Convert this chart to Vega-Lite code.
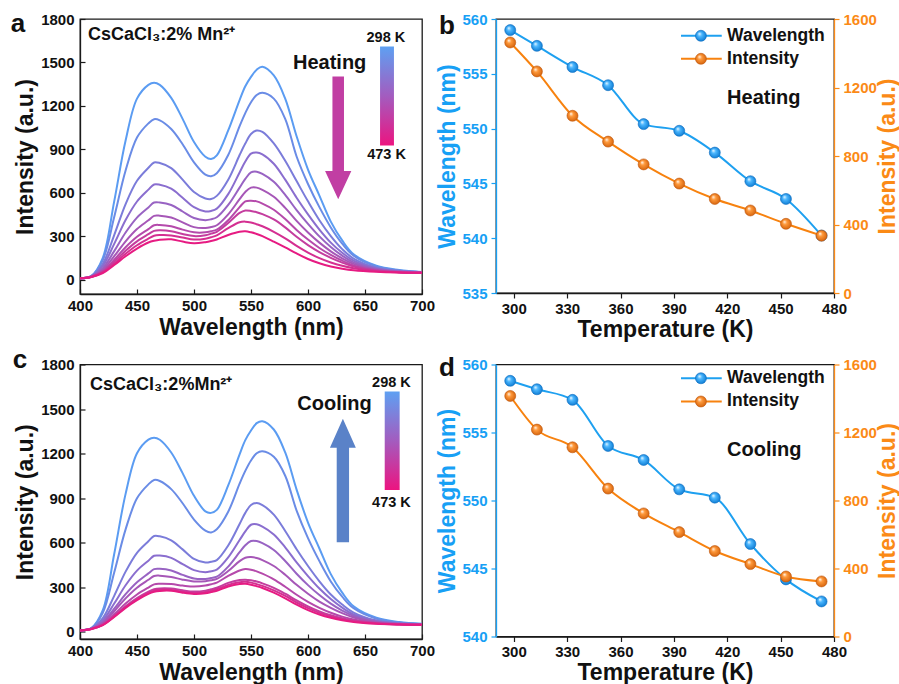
{
 "$schema": "https://vega.github.io/schema/vega-lite/v6.json",
 "padding": {"left": 10, "top": 10, "right": 0, "bottom": 0},
 "bounds": "flush",
 "columns": 2,
 "align": "each",
 "spacing": {"row": 70.5, "column": 74},
 "config": {
  "font": "Liberation Sans",
  "view": {"stroke": "#1a1a1a", "strokeWidth": 1.3},
  "axis": {"labelFont": "Liberation Sans", "titleFont": "Liberation Sans", "labelFontWeight": "bold", "labelFontSize": 15, "titleFontWeight": "bold", "titleFontSize": 23, "labelColor": "#111", "titleColor": "#111", "domainColor": "#1a1a1a", "domainWidth": 1.3, "tickColor": "#1a1a1a", "tickWidth": 1.2, "grid": false, "labelOverlap": false, "labelFlush": false},
  "text": {"font": "Liberation Sans", "fontWeight": "bold", "color": "#111"}
 },
 "datasets": {
  "heat": [
   {"w":400,"t298":8,"t313":8,"t333":8,"t353":8,"t373":8,"t393":8,"t413":8,"t433":8,"t453":8,"t473":8},
   {"w":410,"t298":25,"t313":24,"t333":23,"t353":22,"t373":21,"t393":20,"t413":19,"t433":19,"t453":18,"t473":18},
   {"w":420,"t298":150,"t313":135,"t333":109,"t353":94,"t373":79,"t393":67,"t413":58,"t433":53,"t453":49,"t473":45},
   {"w":430,"t298":540,"t313":432,"t333":307,"t353":246,"t373":196,"t393":161,"t413":137,"t433":123,"t453":110,"t473":100},
   {"w":440,"t298":960,"t313":753,"t333":521,"t353":411,"t373":325,"t393":264,"t413":223,"t433":199,"t453":178,"t473":161},
   {"w":450,"t298":1250,"t313":981,"t333":682,"t353":539,"t373":428,"t393":349,"t413":295,"t433":264,"t453":237,"t473":214},
   {"w":460,"t298":1345,"t313":1079,"t333":772,"t353":621,"t373":498,"t393":409,"t413":348,"t433":313,"t453":282,"t473":256},
   {"w":465,"t298":1360,"t313":1108,"t333":809,"t353":657,"t373":532,"t393":440,"t413":375,"t433":336,"t453":302,"t473":268},
   {"w":470,"t298":1345,"t313":1100,"t333":805,"t353":655,"t373":532,"t393":441,"t413":377,"t433":340,"t453":307,"t473":275},
   {"w":480,"t298":1255,"t313":1040,"t333":770,"t353":628,"t373":515,"t393":428,"t413":368,"t433":334,"t453":305,"t473":278},
   {"w":490,"t298":1110,"t313":935,"t333":690,"t353":565,"t373":470,"t393":395,"t413":345,"t433":314,"t453":290,"t473":262},
   {"w":500,"t298":950,"t313":810,"t333":605,"t353":500,"t373":425,"t393":362,"t413":326,"t433":300,"t453":276,"t473":250},
   {"w":510,"t298":848,"t313":725,"t333":560,"t353":470,"t373":410,"t393":356,"t413":326,"t433":306,"t453":282,"t473":258},
   {"w":515,"t298":832,"t313":714,"t333":556,"t353":474,"t373":416,"t393":363,"t413":334,"t433":317,"t453":292,"t473":266},
   {"w":520,"t298":858,"t313":735,"t333":578,"t353":490,"t373":430,"t393":375,"t413":345,"t433":330,"t453":305,"t473":277},
   {"w":530,"t298":1030,"t313":860,"t333":690,"t353":590,"t373":515,"t393":450,"t413":410,"t433":390,"t453":355,"t473":308},
   {"w":540,"t298":1240,"t313":1060,"t333":860,"t353":740,"t373":635,"t393":555,"t413":500,"t433":460,"t453":396,"t473":330},
   {"w":545,"t298":1335,"t313":1150,"t333":940,"t353":815,"t373":695,"t393":605,"t413":540,"t433":477,"t453":400,"t473":333},
   {"w":550,"t298":1400,"t313":1225,"t333":1005,"t353":870,"t373":740,"t393":635,"t413":545,"t433":474,"t453":394,"t473":326},
   {"w":555,"t298":1450,"t313":1275,"t333":1030,"t353":878,"t373":745,"t393":635,"t413":540,"t433":465,"t453":382,"t473":315},
   {"w":560,"t298":1470,"t313":1290,"t333":1020,"t353":865,"t373":730,"t393":620,"t413":525,"t433":452,"t453":368,"t473":300},
   {"w":570,"t298":1410,"t313":1250,"t333":940,"t353":800,"t373":675,"t393":572,"t413":482,"t433":415,"t453":330,"t473":262},
   {"w":580,"t298":1250,"t313":1110,"t333":820,"t353":690,"t373":585,"t393":495,"t413":418,"t433":360,"t453":285,"t473":222},
   {"w":590,"t298":990,"t313":850,"t333":680,"t353":565,"t373":480,"t393":405,"t413":343,"t433":295,"t453":232,"t473":180},
   {"w":600,"t298":760,"t313":660,"t333":540,"t353":450,"t373":385,"t393":325,"t413":276,"t433":238,"t453":186,"t473":142},
   {"w":610,"t298":580,"t313":500,"t333":410,"t353":345,"t373":298,"t393":255,"t413":218,"t433":190,"t453":148,"t473":112},
   {"w":620,"t298":400,"t313":360,"t333":300,"t353":255,"t373":225,"t393":195,"t413":170,"t433":150,"t453":118,"t473":90},
   {"w":630,"t298":270,"t313":248,"t333":210,"t353":185,"t373":165,"t393":146,"t413":130,"t433":117,"t453":95,"t473":75},
   {"w":640,"t298":175,"t313":165,"t333":145,"t353":130,"t373":118,"t393":108,"t413":98,"t433":90,"t453":78,"t473":64},
   {"w":660,"t298":95,"t313":90,"t333":82,"t353":76,"t373":72,"t393":68,"t413":64,"t433":60,"t453":57,"t473":53},
   {"w":680,"t298":66,"t313":63,"t333":60,"t353":57,"t373":55,"t393":53,"t413":51,"t433":50,"t453":49,"t473":48},
   {"w":700,"t298":52,"t313":51,"t333":50,"t353":49,"t373":48,"t393":47,"t413":47,"t433":46,"t453":46,"t473":46}
  ],
  "cool": [
   {"w":400,"t298":8,"t313":8,"t333":8,"t353":8,"t373":8,"t393":8,"t413":8,"t433":8,"t453":8,"t473":8},
   {"w":410,"t298":24,"t313":23,"t333":22,"t353":21,"t373":20,"t393":20,"t413":19,"t433":18,"t453":18,"t473":18},
   {"w":420,"t298":144,"t313":127,"t333":91,"t353":76,"t373":64,"t393":58,"t413":51,"t433":46,"t453":45,"t473":44},
   {"w":430,"t298":523,"t313":398,"t333":241,"t353":189,"t373":154,"t393":137,"t413":117,"t433":105,"t453":102,"t473":99},
   {"w":440,"t298":928,"t313":689,"t333":404,"t353":312,"t373":252,"t393":224,"t413":189,"t433":170,"t453":164,"t473":160},
   {"w":450,"t298":1202,"t313":898,"t333":531,"t353":411,"t373":333,"t393":296,"t413":250,"t433":225,"t453":218,"t473":212},
   {"w":460,"t298":1294,"t313":992,"t333":609,"t353":478,"t373":392,"t393":349,"t413":297,"t433":269,"t453":260,"t473":254},
   {"w":465,"t298":1307,"t313":1022,"t333":644,"t353":511,"t373":421,"t393":375,"t413":318,"t433":285,"t453":276,"t473":268},
   {"w":470,"t298":1293,"t313":1015,"t333":642,"t353":512,"t373":423,"t393":377,"t413":322,"t433":291,"t453":282,"t473":274},
   {"w":480,"t298":1207,"t313":960,"t333":615,"t353":497,"t373":412,"t393":368,"t413":320,"t433":290,"t453":281,"t473":275},
   {"w":490,"t298":1068,"t313":865,"t333":554,"t353":455,"t373":382,"t393":350,"t413":310,"t433":278,"t453":268,"t473":262},
   {"w":500,"t298":915,"t313":755,"t333":490,"t353":414,"t373":358,"t393":338,"t413":303,"t433":270,"t453":260,"t473":254},
   {"w":510,"t298":810,"t313":680,"t333":465,"t353":400,"t373":355,"t393":340,"t413":310,"t433":276,"t453":266,"t473":258},
   {"w":515,"t298":800,"t313":668,"t333":470,"t353":407,"t373":361,"t393":346,"t413":319,"t433":285,"t453":275,"t473":266},
   {"w":520,"t298":820,"t313":690,"t333":482,"t353":418,"t373":370,"t393":355,"t413":330,"t433":295,"t453":285,"t473":275},
   {"w":530,"t298":985,"t313":808,"t333":580,"t353":500,"t373":438,"t393":408,"t413":375,"t433":328,"t453":315,"t473":304},
   {"w":540,"t298":1195,"t313":997,"t333":725,"t353":617,"t373":535,"t393":475,"t413":412,"t433":347,"t453":333,"t473":320},
   {"w":545,"t298":1290,"t313":1083,"t333":800,"t353":675,"t373":582,"t393":498,"t413":421,"t433":350,"t453":335,"t473":322},
   {"w":550,"t298":1355,"t313":1153,"t333":853,"t353":720,"t373":610,"t393":502,"t413":417,"t433":346,"t453":330,"t473":316},
   {"w":555,"t298":1405,"t313":1202,"t333":866,"t353":723,"t373":610,"t393":496,"t413":406,"t433":337,"t453":320,"t473":306},
   {"w":560,"t298":1418,"t313":1215,"t333":852,"t353":708,"t373":596,"t393":482,"t413":390,"t433":325,"t453":308,"t473":294},
   {"w":570,"t298":1362,"t313":1178,"t333":788,"t353":655,"t373":550,"t393":442,"t413":352,"t433":295,"t453":278,"t473":262},
   {"w":580,"t298":1207,"t313":1050,"t333":678,"t353":568,"t373":476,"t393":383,"t413":302,"t433":255,"t453":240,"t473":224},
   {"w":590,"t298":957,"t313":815,"t333":555,"t353":466,"t373":390,"t393":315,"t413":248,"t433":210,"t453":196,"t473":182},
   {"w":600,"t298":735,"t313":630,"t333":442,"t353":374,"t373":313,"t393":255,"t413":200,"t433":170,"t453":158,"t473":145},
   {"w":610,"t298":560,"t313":475,"t333":339,"t353":290,"t373":246,"t393":202,"t413":160,"t433":136,"t453":126,"t473":115},
   {"w":620,"t298":387,"t313":338,"t333":250,"t353":219,"t373":188,"t393":160,"t413":127,"t433":110,"t453":102,"t473":93},
   {"w":630,"t298":262,"t313":235,"t333":182,"t353":161,"t373":141,"t393":124,"t413":101,"t433":90,"t453":84,"t473":77},
   {"w":640,"t298":170,"t313":157,"t333":128,"t353":115,"t373":105,"t393":95,"t413":82,"t433":74,"t453":70,"t473":65},
   {"w":660,"t298":93,"t313":87,"t333":75,"t353":71,"t373":67,"t393":63,"t413":58,"t433":56,"t453":54,"t473":53},
   {"w":680,"t298":64,"t313":61,"t333":56,"t353":54,"t373":53,"t393":51,"t413":50,"t433":49,"t453":48,"t473":48},
   {"w":700,"t298":52,"t313":50,"t333":49,"t353":48,"t373":47,"t393":47,"t413":46,"t433":46,"t453":46,"t473":46}
  ],
  "heatT": [
   {"T":298,"wl":558.99,"I":1463},{"T":313,"wl":557.55,"I":1294},{"T":333,"wl":555.62,"I":1035},{"T":353,"wl":553.96,"I":884},{"T":373,"wl":550.41,"I":751},
   {"T":393,"wl":549.80,"I":639},{"T":413,"wl":547.81,"I":549},{"T":433,"wl":545.20,"I":482},{"T":453,"wl":543.58,"I":404},{"T":473,"wl":540.24,"I":335}
  ],
  "coolT": [
   {"T":298,"wl":558.80,"I":1415},{"T":313,"wl":558.18,"I":1217},{"T":333,"wl":557.40,"I":1113},{"T":353,"wl":554.01,"I":870},{"T":373,"wl":552.98,"I":724},
   {"T":393,"wl":550.82,"I":614},{"T":413,"wl":550.21,"I":503},{"T":433,"wl":546.80,"I":426},{"T":453,"wl":544.20,"I":353},{"T":473,"wl":542.58,"I":324}
  ]
 },
 "concat": [
  {
   "width": 342, "height": 275,
   "layer": [
    {"data": {"name": "heat"},
     "transform": [{"fold": ["t298","t313","t333","t353","t373","t393","t413","t433","t453","t473"], "as": ["temp","I"]}],
     "mark": {"type": "line", "interpolate": "catmull-rom", "strokeWidth": 2},
     "encoding": {
      "x": {"field": "w", "type": "quantitative", "scale": {"domain": [400,700], "nice": false},
            "axis": {"title": "Wavelength (nm)", "values": [400,425,450,475,500,525,550,575,600,625,650,675,700], "labelExpr": "datum.value % 50 === 0 ? datum.label : ''", "tickSize": -5, "labelPadding": 9, "titlePadding": 3}},
      "y": {"field": "I", "type": "quantitative", "scale": {"domain": [-100,1800], "nice": false, "zero": false},
            "axis": {"title": "Intensity (a.u.)", "format": "d", "values": [0,150,300,450,600,750,900,1050,1200,1350,1500,1650,1800], "labelExpr": "datum.value % 300 === 0 ? datum.label : ''", "tickSize": -5, "labelPadding": 11, "titlePadding": 3}},
      "color": {"field": "temp", "type": "nominal", "legend": null,
                "scale": {"domain": ["t298","t313","t333","t353","t373","t393","t413","t433","t453","t473"], "range": ["#5b9cf2","#6a8ce6","#7b7cda","#8a6ecf","#9863c3","#a657b7","#b54aab","#c43d9e","#d42f91","#e61b82"]}}
     }},
    {"data": {"values": [{}]},
     "mark": {"type": "point", "shape": "M-0.094,-1L0.094,-1L0.094,0.54L0.214,0.54L0,1L-0.214,0.54L-0.094,0.54Z", "size": 15055, "filled": true, "color": "#c13ea3", "opacity": 1, "strokeWidth": 0},
     "encoding": {"x": {"datum": 626.5}, "y": {"datum": 979}}},
    {"data": {"values": [{}]},
     "mark": {"type": "rect", "fill": {"gradient": "linear", "x1": 0, "y1": 0, "x2": 0, "y2": 1, "stops": [{"offset": 0, "color": "#5ea0f2"}, {"offset": 0.5, "color": "#a35cbf"}, {"offset": 1, "color": "#ec1480"}]}},
     "encoding": {"x": {"datum": 663.2}, "x2": {"datum": 675.4}, "y": {"datum": 1610}, "y2": {"datum": 926}}},
    {"data": {"values": [{}]}, "mark": {"type": "text", "text": "298 K", "fontSize": 14.5, "align": "center", "baseline": "middle"}, "encoding": {"x": {"datum": 668.3}, "y": {"datum": 1667}}},
    {"data": {"values": [{}]}, "mark": {"type": "text", "text": "473 K", "fontSize": 14.5, "align": "center", "baseline": "middle"}, "encoding": {"x": {"datum": 668.9}, "y": {"datum": 862}}},
    {"data": {"values": [{}]}, "mark": {"type": "text", "text": "Heating", "fontSize": 20, "align": "center", "baseline": "middle"}, "encoding": {"x": {"datum": 619}, "y": {"datum": 1494.6}}},
    {"data": {"values": [{}]}, "mark": {"type": "text", "text": "CsCaCl₃:2% Mn²⁺", "fontSize": 18, "align": "left", "baseline": "middle"}, "encoding": {"x": {"datum": 407}, "y": {"datum": 1691}}},
    {"data": {"values": [{}]}, "mark": {"type": "text", "text": "a", "fontSize": 26, "align": "left", "baseline": "top"}, "encoding": {"x": {"datum": 339.2}, "y": {"datum": 1852}}}
   ]
  },
  {
   "width": 338, "height": 274,
   "resolve": {"scale": {"y": "independent"}},
   "layer": [
    {"layer": [
      {"data": {"name": "heatT"},
       "mark": {"type": "line", "interpolate": "monotone", "color": "#1ea0f0", "strokeWidth": 2},
       "encoding": {
        "x": {"field": "T", "type": "quantitative", "scale": {"domain": [290,480], "nice": false, "zero": false},
              "axis": {"title": "Temperature (K)", "values": [300,315,330,345,360,375,390,405,420,435,450,465,480], "labelExpr": "datum.value % 30 === 0 ? datum.label : ''", "tickSize": {"condition": {"test": "datum.value % 30 !== 0", "value": 3}, "value": 5}, "labelPadding": 3, "titlePadding": 2}},
        "y": {"field": "wl", "type": "quantitative", "scale": {"domain": [535,560], "nice": false, "zero": false},
              "axis": {"title": "Wavelength (nm)", "values": [535,537.5,540,542.5,545,547.5,550,552.5,555,557.5,560], "labelExpr": "datum.value % 5 === 0 ? datum.label : ''", "tickSize": {"condition": {"test": "datum.value % 5 !== 0", "value": 3}, "value": 5}, "labelPadding": 4, "titlePadding": 2, "labelColor": "#17a0f5", "titleColor": "#17a0f5", "domainColor": "#17a0f5", "tickColor": "#17a0f5"}}
       }},
      {"data": {"name": "heatT"},
       "mark": {"type": "point", "filled": true, "size": 121, "opacity": 1, "fill": {"gradient": "radial", "x1": 0.35, "y1": 0.3, "r1": 0, "x2": 0.5, "y2": 0.5, "r2": 0.55, "stops": [{"offset": 0, "color": "#ffffff"}, {"offset": 0.35, "color": "#4db8ff"}, {"offset": 1, "color": "#0a78d0"}]}, "stroke": "#0b6cc0", "strokeWidth": 0.6},
       "encoding": {"x": {"field": "T", "type": "quantitative"}, "y": {"field": "wl", "type": "quantitative"}}},
      {"data": {"values": [{}]}, "mark": {"type": "rule", "color": "#1ea0f0", "strokeWidth": 2}, "encoding": {"x": {"datum": 394}, "x2": {"datum": 416.9}, "y": {"datum": 558.47}}},
      {"data": {"values": [{}]}, "mark": {"type": "point", "filled": true, "size": 121, "opacity": 1, "fill": {"gradient": "radial", "x1": 0.35, "y1": 0.3, "r1": 0, "x2": 0.5, "y2": 0.5, "r2": 0.55, "stops": [{"offset": 0, "color": "#ffffff"}, {"offset": 0.35, "color": "#4db8ff"}, {"offset": 1, "color": "#0a78d0"}]}, "stroke": "#0b6cc0", "strokeWidth": 0.6}, "encoding": {"x": {"datum": 405.2}, "y": {"datum": 558.47}}},
      {"data": {"values": [{}]}, "mark": {"type": "text", "text": "Wavelength", "fontSize": 17.5, "align": "left", "baseline": "middle"}, "encoding": {"x": {"datum": 419.9}, "y": {"datum": 558.47}}},
      {"data": {"values": [{}]}, "mark": {"type": "rule", "color": "#f7820f", "strokeWidth": 2}, "encoding": {"x": {"datum": 394}, "x2": {"datum": 416.9}, "y": {"datum": 556.37}}},
      {"data": {"values": [{}]}, "mark": {"type": "point", "filled": true, "size": 121, "opacity": 1, "fill": {"gradient": "radial", "x1": 0.35, "y1": 0.3, "r1": 0, "x2": 0.5, "y2": 0.5, "r2": 0.55, "stops": [{"offset": 0, "color": "#ffffff"}, {"offset": 0.35, "color": "#ff9a3c"}, {"offset": 1, "color": "#d2600a"}]}, "stroke": "#c0560a", "strokeWidth": 0.6}, "encoding": {"x": {"datum": 405.2}, "y": {"datum": 556.37}}},
      {"data": {"values": [{}]}, "mark": {"type": "text", "text": "Intensity", "fontSize": 17.5, "align": "left", "baseline": "middle"}, "encoding": {"x": {"datum": 419.9}, "y": {"datum": 556.37}}},
      {"data": {"values": [{}]}, "mark": {"type": "text", "text": "Heating", "fontSize": 20, "align": "left", "baseline": "middle"}, "encoding": {"x": {"datum": 419.9}, "y": {"datum": 552.77}}},
      {"data": {"values": [{}]}, "mark": {"type": "text", "text": "b", "fontSize": 26, "align": "left", "baseline": "top"}, "encoding": {"x": {"datum": 258}, "y": {"datum": 560.56}}}
    ]},
    {"layer": [
      {"data": {"name": "heatT"},
       "mark": {"type": "line", "interpolate": "monotone", "color": "#f7820f", "strokeWidth": 2},
       "encoding": {
        "x": {"field": "T", "type": "quantitative"},
        "y": {"field": "I", "type": "quantitative", "scale": {"domain": [0,1600], "nice": false},
              "axis": {"orient": "right", "title": "Intensity (a.u.)", "titleAngle": 270, "titleBaseline": "top", "format": "d", "values": [0,200,400,600,800,1000,1200,1400,1600], "labelExpr": "datum.value % 400 === 0 ? datum.label : ''", "tickSize": {"condition": {"test": "datum.value % 400 !== 0", "value": 3}, "value": 5}, "labelPadding": 4, "titlePadding": 0, "labelColor": "#fb8a16", "titleColor": "#fb8a16", "domainColor": "#fb8a16", "tickColor": "#fb8a16"}}
       }},
      {"data": {"name": "heatT"},
       "mark": {"type": "point", "filled": true, "size": 121, "opacity": 1, "fill": {"gradient": "radial", "x1": 0.35, "y1": 0.3, "r1": 0, "x2": 0.5, "y2": 0.5, "r2": 0.55, "stops": [{"offset": 0, "color": "#ffffff"}, {"offset": 0.35, "color": "#ff9a3c"}, {"offset": 1, "color": "#d2600a"}]}, "stroke": "#c0560a", "strokeWidth": 0.6},
       "encoding": {"x": {"field": "T", "type": "quantitative"}, "y": {"field": "I", "type": "quantitative"}}}
    ]}
   ]
  },
  {
   "width": 342, "height": 274.5,
   "layer": [
    {"data": {"name": "cool"},
     "transform": [{"fold": ["t298","t313","t333","t353","t373","t393","t413","t433","t453","t473"], "as": ["temp","I"]}],
     "mark": {"type": "line", "interpolate": "catmull-rom", "strokeWidth": 2},
     "encoding": {
      "x": {"field": "w", "type": "quantitative", "scale": {"domain": [400,700], "nice": false},
            "axis": {"title": "Wavelength (nm)", "values": [400,425,450,475,500,525,550,575,600,625,650,675,700], "labelExpr": "datum.value % 50 === 0 ? datum.label : ''", "tickSize": -5, "labelPadding": 9, "titlePadding": 3}},
      "y": {"field": "I", "type": "quantitative", "scale": {"domain": [-50,1800], "nice": false, "zero": false},
            "axis": {"title": "Intensity (a.u.)", "format": "d", "values": [0,150,300,450,600,750,900,1050,1200,1350,1500,1650,1800], "labelExpr": "datum.value % 300 === 0 ? datum.label : ''", "tickSize": -5, "labelPadding": 11, "titlePadding": 3}},
      "color": {"field": "temp", "type": "nominal", "legend": null,
                "scale": {"domain": ["t298","t313","t333","t353","t373","t393","t413","t433","t453","t473"], "range": ["#5b9cf2","#6a8ce6","#7b7cda","#8a6ecf","#9863c3","#a657b7","#b54aab","#c43d9e","#d42f91","#e61b82"]}}
     }},
    {"data": {"values": [{}]},
     "mark": {"type": "point", "shape": "M-0.1,1L0.1,1L0.1,-0.53L0.21,-0.53L0,-1L-0.21,-0.53L-0.1,-0.53Z", "size": 15228, "filled": true, "color": "#5a82c8", "opacity": 1, "strokeWidth": 0},
     "encoding": {"x": {"datum": 630.6}, "y": {"datum": 1018}}},
    {"data": {"values": [{}]},
     "mark": {"type": "rect", "fill": {"gradient": "linear", "x1": 0, "y1": 0, "x2": 0, "y2": 1, "stops": [{"offset": 0, "color": "#5ea0f2"}, {"offset": 0.5, "color": "#a35cbf"}, {"offset": 1, "color": "#ec1480"}]}},
     "encoding": {"x": {"datum": 667.3}, "x2": {"datum": 680.4}, "y": {"datum": 1618}, "y2": {"datum": 955}}},
    {"data": {"values": [{}]}, "mark": {"type": "text", "text": "298 K", "fontSize": 14.5, "align": "center", "baseline": "middle"}, "encoding": {"x": {"datum": 673.2}, "y": {"datum": 1674}}},
    {"data": {"values": [{}]}, "mark": {"type": "text", "text": "473 K", "fontSize": 14.5, "align": "center", "baseline": "middle"}, "encoding": {"x": {"datum": 673.2}, "y": {"datum": 865}}},
    {"data": {"values": [{}]}, "mark": {"type": "text", "text": "Cooling", "fontSize": 20, "align": "center", "baseline": "middle"}, "encoding": {"x": {"datum": 623.3}, "y": {"datum": 1535}}},
    {"data": {"values": [{}]}, "mark": {"type": "text", "text": "CsCaCl₃:2%Mn²⁺", "fontSize": 18, "align": "left", "baseline": "middle"}, "encoding": {"x": {"datum": 408.8}, "y": {"datum": 1663}}},
    {"data": {"values": [{}]}, "mark": {"type": "text", "text": "c", "fontSize": 26, "align": "left", "baseline": "top"}, "encoding": {"x": {"datum": 341}, "y": {"datum": 1921}}}
   ]
  },
  {
   "width": 338, "height": 272,
   "resolve": {"scale": {"y": "independent"}},
   "layer": [
    {"layer": [
      {"data": {"name": "coolT"},
       "mark": {"type": "line", "interpolate": "monotone", "color": "#1ea0f0", "strokeWidth": 2},
       "encoding": {
        "x": {"field": "T", "type": "quantitative", "scale": {"domain": [290,480], "nice": false, "zero": false},
              "axis": {"title": "Temperature (K)", "values": [300,315,330,345,360,375,390,405,420,435,450,465,480], "labelExpr": "datum.value % 30 === 0 ? datum.label : ''", "tickSize": {"condition": {"test": "datum.value % 30 !== 0", "value": 3}, "value": 5}, "labelPadding": 3, "titlePadding": 2}},
        "y": {"field": "wl", "type": "quantitative", "scale": {"domain": [540,560], "nice": false, "zero": false},
              "axis": {"title": "Wavelength (nm)", "values": [540,542.5,545,547.5,550,552.5,555,557.5,560], "labelExpr": "datum.value % 5 === 0 ? datum.label : ''", "tickSize": {"condition": {"test": "datum.value % 5 !== 0", "value": 3}, "value": 5}, "labelPadding": 4, "titlePadding": 2, "labelColor": "#17a0f5", "titleColor": "#17a0f5", "domainColor": "#17a0f5", "tickColor": "#17a0f5"}}
       }},
      {"data": {"name": "coolT"},
       "mark": {"type": "point", "filled": true, "size": 121, "opacity": 1, "fill": {"gradient": "radial", "x1": 0.35, "y1": 0.3, "r1": 0, "x2": 0.5, "y2": 0.5, "r2": 0.55, "stops": [{"offset": 0, "color": "#ffffff"}, {"offset": 0.35, "color": "#4db8ff"}, {"offset": 1, "color": "#0a78d0"}]}, "stroke": "#0b6cc0", "strokeWidth": 0.6},
       "encoding": {"x": {"field": "T", "type": "quantitative"}, "y": {"field": "wl", "type": "quantitative"}}},
      {"data": {"values": [{}]}, "mark": {"type": "rule", "color": "#1ea0f0", "strokeWidth": 2}, "encoding": {"x": {"datum": 394}, "x2": {"datum": 416.9}, "y": {"datum": 558.99}}},
      {"data": {"values": [{}]}, "mark": {"type": "point", "filled": true, "size": 121, "opacity": 1, "fill": {"gradient": "radial", "x1": 0.35, "y1": 0.3, "r1": 0, "x2": 0.5, "y2": 0.5, "r2": 0.55, "stops": [{"offset": 0, "color": "#ffffff"}, {"offset": 0.35, "color": "#4db8ff"}, {"offset": 1, "color": "#0a78d0"}]}, "stroke": "#0b6cc0", "strokeWidth": 0.6}, "encoding": {"x": {"datum": 405.2}, "y": {"datum": 558.99}}},
      {"data": {"values": [{}]}, "mark": {"type": "text", "text": "Wavelength", "fontSize": 17.5, "align": "left", "baseline": "middle"}, "encoding": {"x": {"datum": 419.9}, "y": {"datum": 558.99}}},
      {"data": {"values": [{}]}, "mark": {"type": "rule", "color": "#f7820f", "strokeWidth": 2}, "encoding": {"x": {"datum": 394}, "x2": {"datum": 416.9}, "y": {"datum": 557.28}}},
      {"data": {"values": [{}]}, "mark": {"type": "point", "filled": true, "size": 121, "opacity": 1, "fill": {"gradient": "radial", "x1": 0.35, "y1": 0.3, "r1": 0, "x2": 0.5, "y2": 0.5, "r2": 0.55, "stops": [{"offset": 0, "color": "#ffffff"}, {"offset": 0.35, "color": "#ff9a3c"}, {"offset": 1, "color": "#d2600a"}]}, "stroke": "#c0560a", "strokeWidth": 0.6}, "encoding": {"x": {"datum": 405.2}, "y": {"datum": 557.28}}},
      {"data": {"values": [{}]}, "mark": {"type": "text", "text": "Intensity", "fontSize": 17.5, "align": "left", "baseline": "middle"}, "encoding": {"x": {"datum": 419.9}, "y": {"datum": 557.28}}},
      {"data": {"values": [{}]}, "mark": {"type": "text", "text": "Cooling", "fontSize": 20, "align": "left", "baseline": "middle"}, "encoding": {"x": {"datum": 419.9}, "y": {"datum": 553.73}}},
      {"data": {"values": [{}]}, "mark": {"type": "text", "text": "d", "fontSize": 26, "align": "left", "baseline": "top"}, "encoding": {"x": {"datum": 258}, "y": {"datum": 560.70}}}
    ]},
    {"layer": [
      {"data": {"name": "coolT"},
       "mark": {"type": "line", "interpolate": "monotone", "color": "#f7820f", "strokeWidth": 2},
       "encoding": {
        "x": {"field": "T", "type": "quantitative"},
        "y": {"field": "I", "type": "quantitative", "scale": {"domain": [0,1600], "nice": false},
              "axis": {"orient": "right", "title": "Intensity (a.u.)", "titleAngle": 270, "titleBaseline": "top", "format": "d", "values": [0,200,400,600,800,1000,1200,1400,1600], "labelExpr": "datum.value % 400 === 0 ? datum.label : ''", "tickSize": {"condition": {"test": "datum.value % 400 !== 0", "value": 3}, "value": 5}, "labelPadding": 4, "titlePadding": 0, "labelColor": "#fb8a16", "titleColor": "#fb8a16", "domainColor": "#fb8a16", "tickColor": "#fb8a16"}}
       }},
      {"data": {"name": "coolT"},
       "mark": {"type": "point", "filled": true, "size": 121, "opacity": 1, "fill": {"gradient": "radial", "x1": 0.35, "y1": 0.3, "r1": 0, "x2": 0.5, "y2": 0.5, "r2": 0.55, "stops": [{"offset": 0, "color": "#ffffff"}, {"offset": 0.35, "color": "#ff9a3c"}, {"offset": 1, "color": "#d2600a"}]}, "stroke": "#c0560a", "strokeWidth": 0.6},
       "encoding": {"x": {"field": "T", "type": "quantitative"}, "y": {"field": "I", "type": "quantitative"}}}
    ]}
   ]
  }
 ]
}
